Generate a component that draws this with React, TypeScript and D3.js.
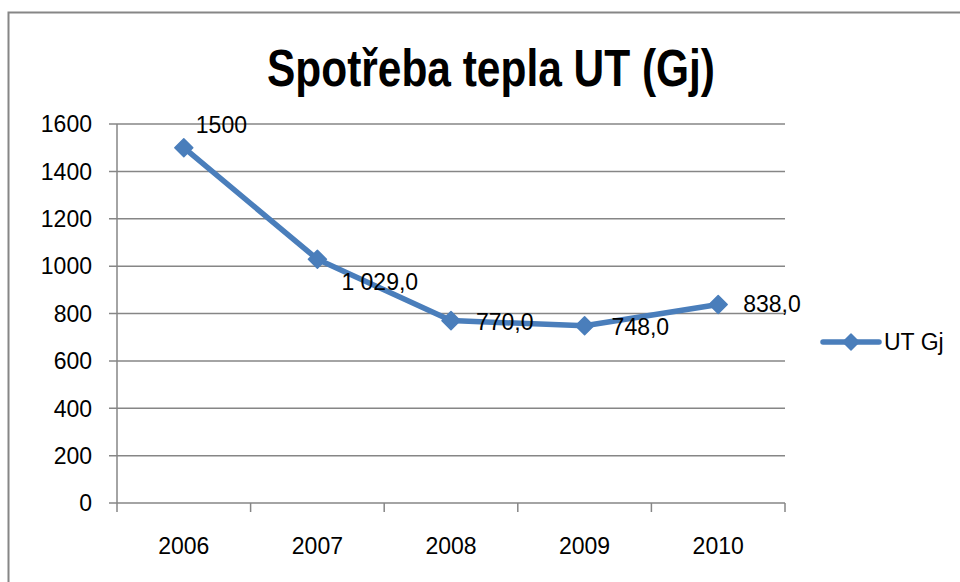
import React from "react";
import * as d3 from "d3";

const years = ["2006", "2007", "2008", "2009", "2010"];
const values = [1500, 1029, 770, 748, 838];
const labels = ["1500", "1 029,0", "770,0", "748,0", "838,0"];
const yTicks = [0, 200, 400, 600, 800, 1000, 1200, 1400, 1600];
const labelOffsets = [
  [12, -23],
  [24, 22],
  [25, 1],
  [27, 1],
  [25, -1],
];
const seriesName = "UT Gj";
const title = "Spotřeba tepla UT (Gj)";

const W = 960;
const H = 582;
const left = 117;
const right = 785;
const top = 124;
const bottom = 503;
const blue = "#4A7EBB";
const grey = "#868686";
const font = "'Liberation Sans', Arial, sans-serif";
const fs = 23;

function diamond(cx: number, cy: number, r: number) {
  return `M${cx},${cy - r}L${cx + r},${cy}L${cx},${cy + r}L${cx - r},${cy}Z`;
}

export default function App() {
  const x = d3.scaleBand<string>().domain(years).range([left, right]);
  const y = d3.scaleLinear().domain([0, 1600]).range([bottom, top]);
  const cx = (d: string) => (x(d) as number) + x.bandwidth() / 2;
  const line = d3
    .line<number>()
    .x((_, i) => cx(years[i]))
    .y((v) => y(v));
  const xTickPos = [...years.map((d) => x(d) as number), right];

  return (
    <svg
      width={W}
      height={H}
      style={{ position: "absolute", left: 0, top: 0, background: "#fff" }}
    >
      <rect x={0} y={0} width={W} height={H} fill="#fff" />
      <rect
        x={8.5}
        y={12.5}
        width={1000}
        height={700}
        fill="none"
        stroke={grey}
        strokeWidth={2}
      />
      <text
        x={491}
        y={86}
        textAnchor="middle"
        fontFamily={font}
        fontWeight="bold"
        fontSize={52}
        textLength={448}
        lengthAdjust="spacingAndGlyphs"
        fill="#000"
      >
        {title}
      </text>
      {yTicks.map((t) => (
        <g key={t}>
          <line
            x1={left - 8}
            x2={right}
            y1={y(t)}
            y2={y(t)}
            stroke={grey}
            strokeWidth={1.5}
          />
          <text
            x={92}
            y={y(t)}
            dy="0.36em"
            textAnchor="end"
            fontFamily={font}
            fontSize={fs}
            fill="#000"
          >
            {t}
          </text>
        </g>
      ))}
      <line x1={left} x2={left} y1={top} y2={bottom} stroke={grey} strokeWidth={1.5} />
      {xTickPos.map((p, i) => (
        <line key={i} x1={p} x2={p} y1={bottom} y2={bottom + 9} stroke={grey} strokeWidth={1.5} />
      ))}
      {years.map((d) => (
        <text
          key={d}
          x={cx(d)}
          y={546}
          dy="0.36em"
          textAnchor="middle"
          fontFamily={font}
          fontSize={fs}
          fill="#000"
        >
          {d}
        </text>
      ))}
      <path
        d={line(values) || ""}
        fill="none"
        stroke={blue}
        strokeWidth={5.5}
        strokeLinejoin="round"
      />
      {values.map((v, i) => (
        <path
          key={i}
          d={diamond(cx(years[i]), y(v), 9)}
          fill={blue}
          stroke={blue}
          strokeWidth={1.5}
          strokeLinejoin="round"
        />
      ))}
      {values.map((v, i) => (
        <text
          key={"l" + i}
          x={cx(years[i]) + labelOffsets[i][0]}
          y={y(v) + labelOffsets[i][1]}
          dy="0.36em"
          fontFamily={font}
          fontSize={fs}
          fill="#000"
        >
          {labels[i]}
        </text>
      ))}
      <line x1={823} x2={879} y1={342} y2={342} stroke={blue} strokeWidth={5.5} strokeLinecap="round" />
      <path d={diamond(851, 342, 8)} fill={blue} stroke={blue} strokeWidth={1.5} strokeLinejoin="round" />
      <text x={884} y={342} dy="0.36em" fontFamily={font} fontSize={fs} fill="#000">
        {seriesName}
      </text>
    </svg>
  );
}
